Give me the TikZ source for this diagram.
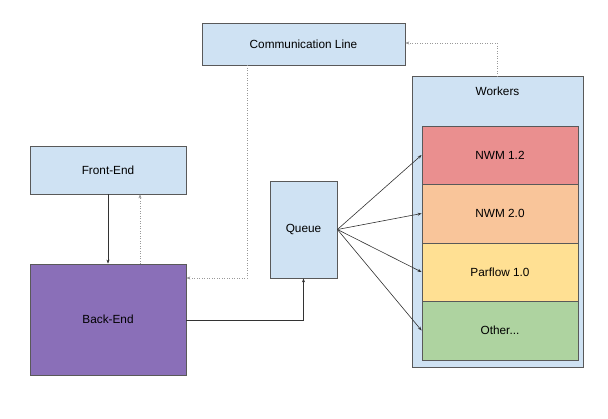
\documentclass[tikz,border=0pt]{standalone}
\usepackage{fontspec}
\setmainfont{Liberation Sans}
\usetikzlibrary{arrows.meta}
\definecolor{lblue}{HTML}{CFE2F3}
\definecolor{bord}{HTML}{595959}
\definecolor{purp}{HTML}{8A6FB8}
\definecolor{nred}{HTML}{EA8F8F}
\definecolor{norange}{HTML}{F9C59A}
\definecolor{nyellow}{HTML}{FFE093}
\definecolor{ngreen}{HTML}{AED3A0}
\begin{document}
\begin{tikzpicture}[x=1pt,y=-1pt,
  box/.style={draw=bord, line width=0.8pt, inner sep=0pt, font=\fontsize{11.8}{13}\selectfont},
  arr/.style={-{Stealth[length=4pt,width=3pt]}, line width=0.6pt, draw=black!80},
  darr/.style={-{Stealth[length=4pt,width=3pt]}, line width=0.5pt, draw=black!40, dotted}]
\useasboundingbox (0,0) rectangle (608,418);
\node[box, fill=lblue, minimum width=203pt, minimum height=42pt] (comm) at (303.5,44) {Communication Line};
\node[box, fill=lblue, minimum width=171pt, minimum height=291pt] (workers) at (497.5,222) {};
\node[font=\fontsize{11.8}{13}\selectfont] (wlabel) at (497.5,91) {Workers};
\node[box, fill=nred, minimum width=156pt, minimum height=58pt] (n12) at (500,155) {NWM 1.2};
\node[box, fill=norange, minimum width=156pt, minimum height=59pt] (n20) at (500,213.5) {NWM 2.0};
\node[box, fill=nyellow, minimum width=156pt, minimum height=58pt] (par) at (500,272) {Parflow 1.0};
\node[box, fill=ngreen, minimum width=156pt, minimum height=59pt] (oth) at (500,330.5) {Other...};
\node[box, fill=lblue, minimum width=156pt, minimum height=48pt] (fe) at (108,170) {Front-End};
\node[box, fill=purp, minimum width=156pt, minimum height=111pt] (be) at (108,319.5) {Back-End};
\node[box, fill=lblue, minimum width=67pt, minimum height=97pt] (q) at (303.5,229.5) {Queue};
\draw[arr] (fe.south) -- (be.north);
\draw[darr] (be.north -| 140,0) -- (fe.south -| 140,0);
\draw[darr] (comm.south -| 247,0) |- (be.east |- 0,278);
\draw[arr] (be.east |- 0,320) -| (q.south);
\draw[arr] (q.east) -- (n12.west);
\draw[arr] (q.east) -- (n20.west);
\draw[arr] (q.east) -- (par.west);
\draw[arr] (q.east) -- (oth.west);
\draw[darr] (workers.north -| 497,0) |- (comm.east |- 0,43);
\end{tikzpicture}
\end{document}
